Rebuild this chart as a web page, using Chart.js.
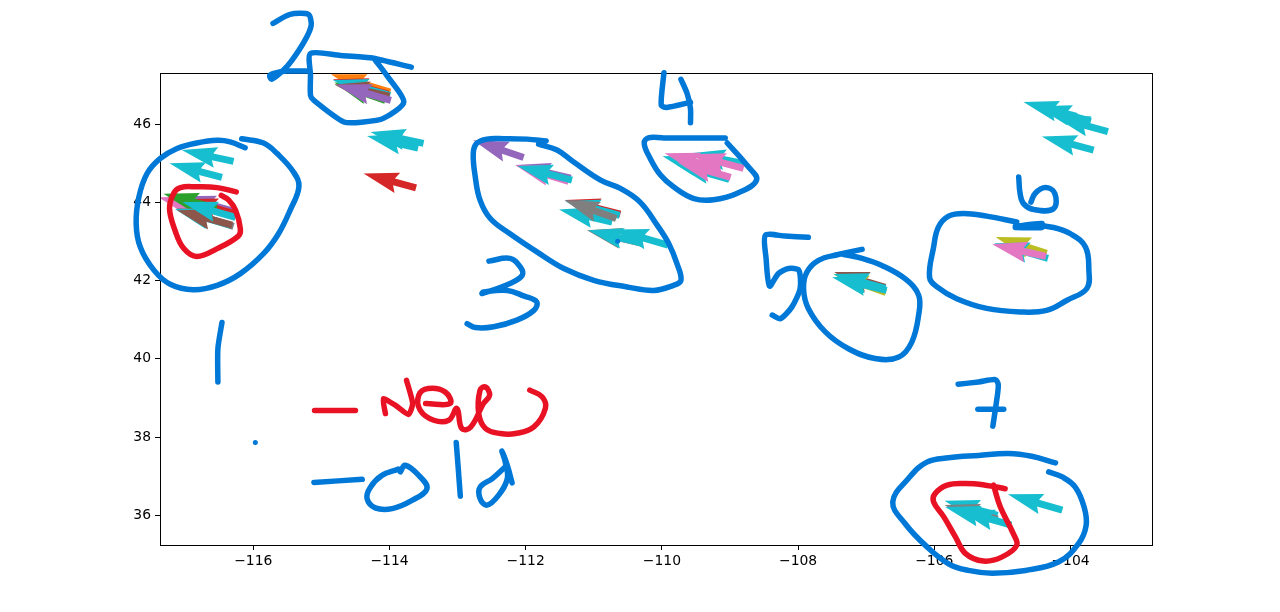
<!DOCTYPE html>
<html>
<head>
<meta charset="utf-8">
<script src="https://cdn.jsdelivr.net/npm/chart.js@4"></script>
<style>
  body { margin: 0; background: #fff; }
</style>
</head>
<body>
<canvas id="quiverChart" width="1280" height="612"></canvas>
<script>
// axis ticks
const xTickValues = [-116, -114, -112, -110, -108, -106, -104];
const yTickValues = [36, 38, 40, 42, 44, 46];

// arrows: tail and tip, in lon/lat
const arrowLon = [-116.29,-116.46,-116.60,-116.28,-116.25,-116.54,-116.29,-116.34,-116.31,-116.26,
  -113.99,-114.06,-114.02,-113.99,-114.00,-113.98,-113.50,-113.58,-113.61,
  -112.03,-111.34,-111.37,-111.32,-110.61,-110.62,-110.73,-110.67,-110.30,-110.29,-109.91,
  -108.80,-109.20,-109.01,-109.17,-108.99,-108.80,
  -106.72,-106.71,-106.72,-106.70,
  -103.91,-103.70,-103.45,-103.66,-104.35,-104.33,-104.36,
  -104.12,-105.07,-105.07,-105.06,-104.87];
const arrowLat = [45.05,44.64,43.75,43.77,43.70,43.85,43.39,43.42,43.42,43.62,
  46.82,46.61,46.77,46.74,46.72,46.61,45.51,45.39,44.37,
  45.15,44.62,44.54,44.57,43.70,43.67,43.50,43.59,42.96,42.96,42.91,
  45.00,44.80,44.59,44.87,44.64,44.87,
  41.83,41.70,41.80,41.75,
  46.20,46.08,45.81,45.34,42.70,42.57,42.62,
  36.13,36.00,35.90,35.85,35.75];
const tipLon = [-117.05,-117.23,-117.39,-117.07,-117.04,-117.32,-117.13,-117.15,-117.12,-117.04,
  -114.86,-114.81,-114.83,-114.83,-114.81,-114.78,-114.28,-114.33,-114.38,
  -112.77,-112.15,-112.15,-112.12,-111.42,-111.42,-111.51,-111.43,-111.10,-111.08,-110.71,
  -109.58,-109.99,-109.80,-109.96,-109.77,-109.58,
  -107.47,-107.48,-107.48,-107.50,
  -104.69,-104.50,-104.23,-104.42,-105.10,-105.12,-105.15,
  -104.92,-105.85,-105.85,-105.84,-105.63];
const tipLat = [45.34,45.00,44.13,44.16,44.08,44.22,43.85,43.83,43.80,44.01,
  47.28,47.07,47.15,47.13,47.02,47.02,45.80,45.70,44.74,
  45.59,44.96,44.95,44.93,44.06,44.04,43.82,44.06,43.29,43.29,43.31,
  45.26,45.18,44.98,45.26,45.03,45.23,
  42.22,42.17,42.17,42.09,
  46.57,46.46,46.19,45.69,43.12,42.96,42.93,
  36.54,36.37,36.26,36.21,36.13];
const arrowColor = ['cyan','cyan','pink','purple','red','green','gray','cyan','brown','cyan',
  'orange','green','red','cyan','brown','purple','cyan','cyan','red',
  'purple','purple','pink','cyan','red','cyan','cyan','gray','gray','cyan','cyan',
  'cyan','cyan','cyan','pink','pink','pink',
  'brown','olive','cyan','cyan',
  'cyan','cyan','cyan','cyan','olive','cyan','pink',
  'cyan','cyan','gray','cyan','cyan'];
const tab10 = {orange:'#ff7f0e',green:'#2ca02c',red:'#d62728',purple:'#9467bd',brown:'#8c564b',
  pink:'#e377c2',gray:'#7f7f7f',olive:'#bcbd22',cyan:'#17becf'};

// hand drawn circles and digits, in lon/lat
const ring1Lon = [-116.12,-116.34,-116.53,-116.83,-117.12,-117.37,-117.56,-117.68,-117.72,-117.66,-117.46,-117.22,-116.88,-116.53,-116.19,-115.85,-115.63,-115.46,-115.33,-115.41,-115.65,-115.85,-116.17];
const ring1Lat = [45.40,45.55,45.59,45.52,45.38,45.12,44.74,44.14,43.46,42.86,42.27,41.91,41.77,41.88,42.18,42.69,43.20,43.80,44.40,44.78,45.25,45.52,45.63];
const digit1Lon = [-116.46,-116.52,-116.52];
const digit1Lat = [40.93,40.26,39.41];
const digit2Lon = [-115.71,-115.46,-115.19,-115.15,-115.24,-115.43,-115.56,-115.73,-115.76,-115.70,-115.51,-115.19];
const digit2Lat = [48.58,48.81,48.81,48.53,48.15,47.64,47.38,47.15,47.24,47.30,47.36,47.36];
const ring2Lon = [-113.68,-114.28,-114.72,-115.16,-115.16,-115.16,-115.11,-114.67,-114.38,-114.09,-113.79,-114.04,-114.21];
const ring2Lat = [47.46,47.70,47.76,47.81,47.25,46.74,46.61,46.06,46.06,46.15,46.57,47.25,47.64];
const ring3Lon = [-111.70,-111.98,-112.32,-112.57,-112.72,-112.77,-112.74,-112.67,-112.52,-112.23,-111.83,-111.44,-111.00,-110.51,-110.12,-109.83,-109.72,-109.78,-109.90,-110.07,-110.32,-110.61,-110.90,-111.30,-111.54,-111.81];
const ring3Lat = [45.57,45.62,45.63,45.62,45.51,45.25,44.65,44.06,43.59,43.20,42.73,42.31,42.01,41.84,41.75,41.88,42.01,42.44,42.95,43.42,44.01,44.36,44.57,45.04,45.34,45.49];
const digit3Lon = [-112.54,-112.23,-112.08,-112.05,-112.23,-112.64,-112.62,-112.27,-112.03,-111.84,-111.88,-112.13,-112.47,-112.74,-112.86];
const digit3Lat = [42.50,42.57,42.35,42.14,41.93,41.67,41.71,41.75,41.61,41.46,41.24,40.99,40.82,40.80,40.90];
const digit4aLon = [-109.97,-110.01,-109.93,-109.58];
const digit4aLat = [47.32,46.49,46.43,46.56];
const digit4bLon = [-109.72,-109.63,-109.58,-109.58];
const digit4bLat = [47.15,46.79,46.40,46.04];
const ring4Lon = [-109.07,-109.48,-109.97,-110.20,-110.26,-110.17,-110.02,-109.83,-109.53,-109.24,-108.90,-108.61,-108.75,-109.04];
const ring4Lat = [45.65,45.65,45.65,45.65,45.51,45.12,44.70,44.40,44.10,44.07,44.23,44.57,44.95,45.52];
const digit5Lon = [-107.85,-108.19,-108.48,-108.47,-108.42,-108.29,-108.14,-107.99,-107.97,-108.09,-108.26,-108.38];
const digit5Lat = [43.11,43.14,43.16,42.57,41.86,42.18,42.31,42.27,41.80,41.33,41.03,41.12];
const ring5Lon = [-107.06,-107.41,-107.70,-107.87,-107.92,-107.85,-107.60,-107.26,-106.87,-106.52,-106.33,-106.23,-106.23,-106.43,-106.77,-107.06,-107.33];
const ring5Lat = [42.80,42.67,42.52,42.22,41.80,41.29,40.69,40.26,40.01,40.05,40.43,41.12,41.63,42.05,42.39,42.57,42.67];
const digit6Lon = [-104.76,-104.74,-104.69,-104.54,-104.25,-104.23,-104.37,-104.52,-104.58];
const digit6Lat = [44.65,44.23,43.97,43.82,43.84,44.23,44.38,44.23,44.01];
const ring6Lon = [-104.79,-105.23,-105.57,-105.79,-105.94,-106.01,-106.07,-105.96,-105.67,-105.23,-104.74,-104.35,-104.05,-103.76,-103.73,-103.78,-104.00,-104.25,-104.54,-104.79];
const ring6Lat = [43.50,43.65,43.72,43.65,43.37,42.86,42.09,41.84,41.54,41.29,41.20,41.24,41.50,41.80,42.27,42.86,43.20,43.36,43.42,43.39];
const overlapLon = [-104.81,-104.42,-104.42,-104.81];
const overlapLat = [43.39,43.46,43.36,43.36];
const digit7Lon = [-105.65,-105.35,-105.10,-105.06,-105.09,-105.14];
const digit7Lat = [39.35,39.41,39.47,39.33,38.86,38.28];
const bar7Lon = [-105.36,-104.98];
const bar7Lat = [38.71,38.71];
const ring7Lon = [-104.22,-104.57,-104.91,-105.35,-105.79,-106.11,-106.38,-106.61,-106.43,-106.13,-105.79,-105.50,-105.15,-104.66,-104.17,-103.88,-103.77,-103.80,-103.93,-104.12,-104.32];
const ring7Lat = [37.34,37.51,37.58,37.53,37.47,37.36,36.94,36.34,35.79,35.23,34.76,34.59,34.52,34.59,34.81,35.28,35.74,36.21,36.72,36.98,37.11];
const oldDashLon = [-115.11,-114.40];
const oldDashLat = [36.84,36.92];
const oldOLon = [-113.87,-114.11,-114.28,-114.33,-114.21,-113.96,-113.67,-113.45,-113.57,-113.77,-113.84];
const oldOLat = [37.18,37.02,36.72,36.43,36.19,36.17,36.38,36.68,37.02,37.28,37.11];
const oldLLon = [-113.02,-112.99,-112.96];
const oldLLat = [37.86,37.19,36.49];
const oldDLon = [-112.30,-112.49,-112.67,-112.67,-112.57,-112.40,-112.27,-112.30,-112.35,-112.27,-112.20];
const oldDLat = [37.24,36.94,36.72,36.43,36.26,36.51,36.94,37.36,37.64,37.28,36.83];
const dotLon = [-115.97,-110.65];
const dotLat = [37.86,43.01];

// red ones
const redRing1Lon = [-116.25,-116.53,-116.83,-117.07,-117.17,-117.23,-117.15,-117.02,-116.83,-116.53,-116.22,-116.19,-116.26,-116.36,-116.47];
const redRing1Lat = [44.27,44.38,44.40,44.38,44.23,43.84,43.29,42.82,42.62,42.82,43.14,43.33,43.80,44.06,44.18];
const redRing7Lon = [-104.96,-105.25,-105.54,-105.81,-105.99,-106.01,-105.86,-105.69,-105.54,-105.28,-105.01,-104.79,-104.84,-105.03,-105.13];
const redRing7Lat = [36.68,36.77,36.81,36.77,36.55,36.34,35.96,35.45,35.02,34.83,34.93,35.23,35.53,36.21,36.77];
const newDashLon = [-115.10,-114.50];
const newDashLat = [38.68,38.68];
const newNLon = [-114.06,-114.09,-113.91,-113.72,-113.66,-113.75];
const newNLat = [38.60,38.98,38.81,38.58,38.86,39.45];
const newRestLon = [-113.47,-113.11,-113.18,-113.43,-113.57,-113.55,-113.35,-113.13,-113.01,-112.94,-112.81,-112.62,-112.53,-112.59,-112.67,-112.69,-112.59,-112.37,-112.15,-111.88,-111.71,-111.76,-111.94];
const newRestLat = [38.86,38.86,39.15,39.24,39.07,38.69,38.43,38.43,38.73,38.22,38.25,38.86,39.07,39.28,39.20,38.60,38.22,38.09,38.09,38.26,38.74,39.03,39.20];

const inkBlue = '#0078d7';
const inkRed = '#e81224';

function stroke(lon, lat, color, tension) {
  return {
    type: 'scatter',
    data: lon.map((v, i) => ({x: v, y: lat[i]})),
    showLine: true,
    borderColor: color,
    borderWidth: 5.5,
    borderCapStyle: 'round',
    borderJoinStyle: 'round',
    tension: tension,
    capBezierPoints: false,
    pointRadius: 0,
    clip: false
  };
}

var datasets = [{
  // tails of the arrows, the plugin below draws the shapes
  type: 'scatter',
  label: 'arrows',
  data: arrowLon.map((v, i) => ({x: v, y: arrowLat[i]})),
  pointRadius: 0
}];
// rounded rings
[[ring1Lon,ring1Lat],[ring3Lon,ring3Lat],[ring4Lon,ring4Lat],[ring5Lon,ring5Lat],[ring6Lon,ring6Lat],[ring7Lon,ring7Lat],
 [digit3Lon,digit3Lat],[digit6Lon,digit6Lat],[oldOLon,oldOLat],[oldDLon,oldDLat]
].forEach(s => datasets.push(stroke(s[0], s[1], inkBlue, 0.4)));
// sharper ones
[[digit1Lon,digit1Lat],[digit2Lon,digit2Lat],[ring2Lon,ring2Lat],[digit4aLon,digit4aLat],
 [digit4bLon,digit4bLat],[digit5Lon,digit5Lat],[overlapLon,overlapLat],[digit7Lon,digit7Lat],
 [bar7Lon,bar7Lat],[oldDashLon,oldDashLat],[oldLLon,oldLLat]
].forEach(s => datasets.push(stroke(s[0], s[1], inkBlue, 0.25)));
[[redRing1Lon,redRing1Lat],[redRing7Lon,redRing7Lat],[newDashLon,newDashLat],[newRestLon,newRestLat]
].forEach(s => datasets.push(stroke(s[0], s[1], inkRed, 0.4)));
datasets.push(stroke(newNLon, newNLat, inkRed, 0.2));
datasets.push({
  type: 'scatter',
  data: dotLon.map((v, i) => ({x: v, y: dotLat[i]})),
  pointRadius: 2.5,
  pointBackgroundColor: inkBlue,
  pointBorderWidth: 0,
  clip: false
});

// quiver shapes + the box round the axes
const quiverPlugin = {
  id: 'quiver',
  beforeDatasetsDraw(chart) {
    const c = chart.ctx, a = chart.chartArea;
    const xs = chart.scales.x, ys = chart.scales.y;
    const tails = chart.getDatasetMeta(0).data;
    c.save();
    c.beginPath();
    c.rect(a.left, a.top, a.right - a.left, a.bottom - a.top);
    c.clip();
    tails.forEach((el, i) => {
      const tx = el.x, ty = el.y;
      const px = xs.getPixelForValue(tipLon[i]), py = ys.getPixelForValue(tipLat[i]);
      const len = Math.hypot(px - tx, py - ty);
      const dx = (px - tx) / len, dy = (py - ty) / len;
      const nx = -dy, ny = dx;
      const at = (back, side) => [px - dx * back + nx * side, py - dy * back + ny * side];
      const pts = [[tx + nx * 3.5, ty + ny * 3.5], at(31.5, 3.5), at(35, 10.5), [px, py],
        at(35, -10.5), at(31.5, -3.5), [tx - nx * 3.5, ty - ny * 3.5]];
      c.beginPath();
      pts.forEach((p, k) => k ? c.lineTo(p[0], p[1]) : c.moveTo(p[0], p[1]));
      c.closePath();
      c.fillStyle = tab10[arrowColor[i]];
      c.fill();
    });
    c.restore();
    c.strokeStyle = '#000';
    c.lineWidth = 1;
    c.strokeRect(a.left + 0.5, a.top + 0.5, a.right - a.left, a.bottom - a.top);
  }
};

function axisOptions(min, max, tickValues, pad) {
  return {
    type: 'linear',
    min: min,
    max: max,
    grid: {drawOnChartArea: false, drawTicks: true, tickLength: 5, tickColor: '#000', tickWidth: 1},
    border: {display: false},
    ticks: {
      color: '#000',
      padding: pad,
      maxRotation: 0,
      autoSkip: false,
      font: {family: 'DejaVu Sans', size: 13.9},
      callback: v => String(v).replace('-', '\u2212')
    },
    afterBuildTicks: axis => { axis.ticks = tickValues.map(v => ({value: v})); }
  };
}

const xAxis = axisOptions(-117.37, -102.803, xTickValues, 3);
xAxis.afterFit = axis => { axis.height = 67; };
const yAxis = axisOptions(35.24, 47.311, yTickValues, 4);
yAxis.afterFit = axis => { axis.width = 160; };

var ctx = document.getElementById('quiverChart').getContext('2d');
var myChart = new Chart(ctx, {
  type: 'scatter',
  data: {datasets: datasets},
  plugins: [quiverPlugin],
  options: {
    responsive: false,
    animation: false,
    layout: {padding: {top: 73, right: 128, left: 0, bottom: 0}},
    plugins: {legend: {display: false}, tooltip: {enabled: false}, title: {display: false}},
    scales: {x: xAxis, y: yAxis}
  }
});
</script>
</body>
</html>
